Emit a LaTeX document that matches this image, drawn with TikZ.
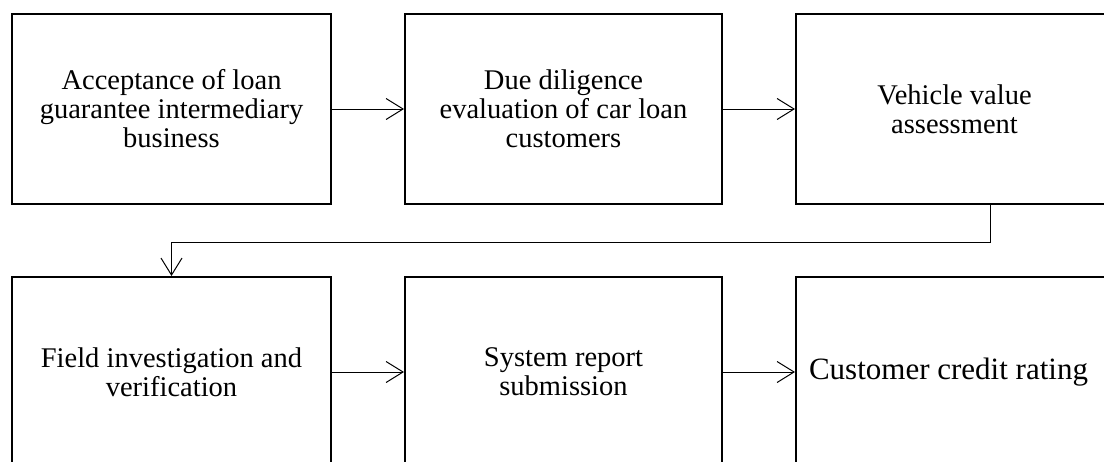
\documentclass[tikz,border=0pt]{standalone}
\usepackage{fontspec}
\setmainfont{Liberation Serif}
\usetikzlibrary{arrows.meta,calc}
\begin{document}
\begin{tikzpicture}[x=1pt,y=-1pt,
  stepbox/.style={draw=black, line width=2pt, fill=white, minimum width=317pt,
    minimum height=190pt, inner sep=0pt, align=center,
    font=\fontsize{28.5}{29}\selectfont},
  flow/.style={draw=black, line width=1pt,
    -{Straight Barb[length=17pt,width=21pt,line width=1pt]}}]
  % page frame and clipping
  \fill[white] (0,0) rectangle (1104,461);
  \useasboundingbox (0,0) rectangle (1104,461);
  \clip (0,0) rectangle (1104,461);
  % upper row
  \node[stepbox, minimum width=319pt] (b1) at (171.5,109) {Acceptance of loan\\guarantee intermediary\\business};
  \node[stepbox] (b2) at (563.5,109) {Due diligence\\evaluation of car loan\\customers};
  \node[stepbox] (b3) at (954.5,109) {Vehicle value\\assessment};
  % lower row
  \node[stepbox, minimum width=319pt] (b4) at (171.5,372) {Field investigation and\\verification};
  \node[stepbox] (b5) at (563.5,372) {System report\\submission};
  \node[stepbox] (b6) at (954.5,372) {};
  \node[font=\fontsize{31}{32}\selectfont, inner sep=0pt] (t6) at (948.5,372) {Customer credit rating};
  % connectors
  \draw[flow] (b1.east) -- (b2.west);
  \draw[flow] (b2.east) -- (b3.west);
  \coordinate (turn) at (990,242);
  \draw[flow] (b3.south -| turn) -- (turn) -| (b4.north);
  \draw[flow] (b4.east) -- (b5.west);
  \draw[flow] (b5.east) -- (b6.west);
\end{tikzpicture}
\end{document}
